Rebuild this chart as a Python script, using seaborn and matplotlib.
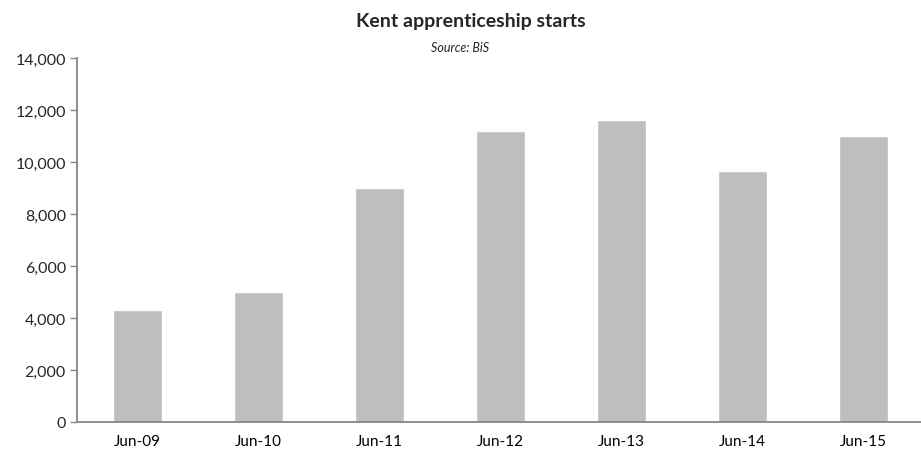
import numpy as np
import pandas as pd
import matplotlib
matplotlib.use("Agg")
import matplotlib.pyplot as plt
import seaborn as sns
from matplotlib.ticker import FuncFormatter, FixedLocator

# Data
periods = ["Jun-09", "Jun-10", "Jun-11", "Jun-12", "Jun-13", "Jun-14", "Jun-15"]
starts = [4300, 5000, 9000, 11200, 11600, 9650, 11000]

sns.set_style("white")
plt.rcParams["font.family"] = ["Lato", "DejaVu Sans"]

df = pd.DataFrame({"Period": periods, "Starts": starts})

fig = plt.figure(figsize=(9.21, 4.52), dpi=100)
ax = fig.add_axes([77 / 921, 29 / 452, 847 / 921, 364 / 452])

sns.barplot(data=df, x="Period", y="Starts", color="#bebebe", width=0.4,
            saturation=1, ax=ax)

axis_col = "#868686"
ax.set_xlim(-0.5, len(periods) - 0.5)
ax.set_ylim(0, 14000)
ax.set_yticks(np.arange(0, 14001, 2000))
ax.yaxis.set_major_formatter(FuncFormatter(lambda v, p: f"{int(v):,}"))
ax.set_xlabel("")
ax.set_ylabel("")

# category boundaries get the tick marks, labels sit in the middle
ax.xaxis.set_minor_locator(FixedLocator(np.arange(-0.5, len(periods), 1.0)))
ax.tick_params(axis="x", which="major", length=0, labelsize=11, pad=9,
               colors="black")
ax.tick_params(axis="x", which="minor", length=4, width=1, color=axis_col,
               direction="out")
ax.tick_params(axis="y", length=5, width=1, color=axis_col, direction="out",
               labelsize=11.5, left=True, pad=3)

for side in ["top", "right"]:
    ax.spines[side].set_visible(False)
for side in ["left", "bottom"]:
    ax.spines[side].set_color(axis_col)
    ax.spines[side].set_linewidth(1.3)

fig.text(471 / 921, 1 - 27 / 452, "Kent apprenticeship starts", ha="center",
         va="baseline", fontsize=14, fontweight="bold")
fig.text(460 / 921, 1 - 52 / 452, "Source: BiS", ha="center", va="baseline",
         fontsize=9, style="italic")

fig.savefig("out.png", dpi=100)
